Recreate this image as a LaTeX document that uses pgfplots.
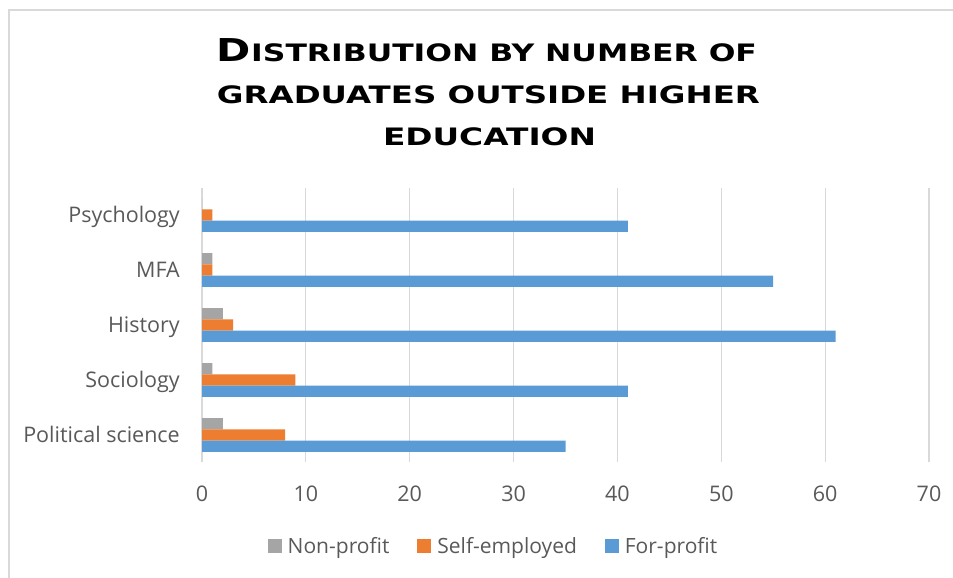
\documentclass[border=0pt]{standalone}
\usepackage{fontspec}
\setmainfont{Open Sans}
\newfontfamily\titlefont{DejaVu Sans}
\usepackage{graphicx}
\usepackage{pgfplots}
\pgfplotsset{compat=1.18}
\definecolor{npgray}{HTML}{A5A5A5}
\definecolor{seorange}{HTML}{ED7D31}
\definecolor{fpblue}{HTML}{5B9BD5}
\definecolor{gridgray}{HTML}{D9D9D9}
\definecolor{txtgray}{HTML}{595959}
\definecolor{framegray}{HTML}{D9D9D9}
\begin{document}
\begin{tikzpicture}
\path[use as bounding box] (0,0) rectangle (953bp,578bp);
\draw[framegray, line width=2bp] (9bp,0) -- (9bp,568bp) -- (953bp,568bp);
\node[anchor=base, inner sep=0pt] at (487bp,516bp) {\resizebox{540bp}{\height}{\titlefont\bfseries\fontsize{31.5bp}{31.5bp}\selectfont D\fontsize{24bp}{24bp}\selectfont ISTRIBUTION BY NUMBER OF}};
\node[anchor=base, inner sep=0pt] at (488.5bp,474bp) {\resizebox{543bp}{\height}{\titlefont\bfseries\fontsize{24bp}{24bp}\selectfont GRADUATES OUTSIDE HIGHER}};
\node[anchor=base, inner sep=0pt] at (489.5bp,432bp) {\resizebox{213bp}{\height}{\titlefont\bfseries\fontsize{24bp}{24bp}\selectfont EDUCATION}};
\begin{axis}[
  at={(202bp,115.5bp)}, anchor=south west,
  scale only axis, width=727bp, height=275bp,
  xbar, bar width=11.3bp,
  xmin=0, xmax=70, ymin=-0.5, ymax=4.5,
  enlargelimits=false,
  xtick={0,10,...,70},
  ytick={0,1,2,3,4},
  yticklabels={Political science,Sociology,History,MFA,Psychology},
  xmajorgrids, grid style={gridgray, line width=1.2bp},
  axis line style={draw=none},
  major tick length=0pt,
  tick label style={font=\fontsize{21.5bp}{24bp}\selectfont, text=txtgray},
  xticklabel style={anchor=center, yshift=-31.5bp},
  yticklabel style={anchor=base east, inner sep=0pt, xshift=-22bp, yshift=-7.7bp},
  /pgf/number format/assume math mode=true,
  legend columns=3,
  legend image code/.code={\fill[#1] (0bp,-7bp) rectangle (14bp,7bp);},
  legend style={draw=none, fill=none, at={(0.3996,-0.3036)}, anchor=center,
    font=\fontsize{21bp}{23bp}\selectfont, text=txtgray,
    nodes={inner sep=0pt},
    /tikz/every odd column/.append style={column sep=6bp},
    /tikz/every even column/.append style={column sep=28bp}},
]
\addplot[fill=npgray, draw=none, bar shift=11.3bp] coordinates {(2,0) (1,1) (2,2) (1,3) (0,4)};
\addplot[fill=seorange, draw=none, bar shift=0bp] coordinates {(8,0) (9,1) (3,2) (1,3) (1,4)};
\addplot[fill=fpblue, draw=none, bar shift=-11.3bp] coordinates {(35,0) (41,1) (61,2) (55,3) (41,4)};
\legend{Non-profit,Self-employed,For-profit}
\end{axis}
\end{tikzpicture}
\end{document}
